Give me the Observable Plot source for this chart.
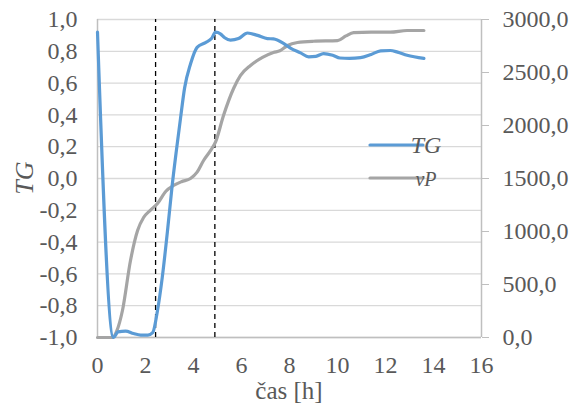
<!DOCTYPE html>
<html><head><meta charset="utf-8">
<script src="https://cdn.jsdelivr.net/npm/d3@7"></script>
<script src="https://cdn.jsdelivr.net/npm/@observablehq/plot@0.6"></script>
<style>body{margin:0;background:#fff}#chart{position:relative;width:569px;height:406px}</style>
</head><body><div id="chart"></div>
<script>
// TG series (time [h], value)
const tgTime   = [0, 0.67, 0.85, 1.17, 1.5, 1.8, 2.1, 2.3, 2.5, 2.7, 2.93, 3.1, 3.29, 3.46, 3.63, 3.875, 4.15, 4.5, 4.75, 4.92, 5.12, 5.3, 5.54, 5.875, 6.25, 6.67, 7.08, 7.33, 7.75, 8.04, 8.46, 8.8, 9.1, 9.42, 9.8, 10.1, 10.5, 10.96, 11.4, 11.8, 12.2, 12.5, 12.9, 13.6];
const tgValues = [0.92, -1.0, -0.965, -0.96, -0.975, -0.985, -0.985, -0.97, -0.83, -0.62, -0.31, -0.06, 0.18, 0.38, 0.57, 0.72, 0.825, 0.855, 0.88, 0.92, 0.91, 0.885, 0.87, 0.88, 0.915, 0.9, 0.88, 0.878, 0.85, 0.82, 0.79, 0.765, 0.768, 0.785, 0.775, 0.758, 0.755, 0.76, 0.78, 0.803, 0.805, 0.795, 0.775, 0.755];
// vP series (time [h], value)
const vpTime   = [0, 0.63, 0.8, 1.04, 1.375, 1.67, 1.92, 2.2, 2.5, 2.85, 3.17, 3.5, 3.875, 4.15, 4.42, 4.7, 4.92, 5.25, 5.67, 5.96, 6.375, 6.875, 7.33, 7.6, 7.92, 8.33, 9.0, 10.0, 10.35, 10.67, 11.4, 12.2, 12.9, 13.6];
const vpValues = [0, 0, 60, 255, 726, 1009, 1132, 1200, 1264, 1380, 1434, 1470, 1500, 1560, 1670, 1760, 1845, 2094, 2349, 2472, 2566, 2642, 2689, 2705, 2755, 2783, 2795, 2800, 2845, 2877, 2880, 2880, 2896, 2896];
// dashed marker times
const markerTimes = [2.42, 4.89];
// ticks
const xTicks = [0, 2, 4, 6, 8, 10, 12, 14, 16];
const tgTicks = [-1, -0.8, -0.6, -0.4, -0.2, 0, 0.2, 0.4, 0.6, 0.8, 1];
const vpTicks = [0, 500, 1000, 1500, 2000, 2500, 3000];
const vpMax = 3000;

const toTG = v => v / vpMax * 2 - 1;
const fromTG = y => (y + 1) / 2 * vpMax;
const fmt1 = d => d3.format(".1f")(Math.abs(d) < 1e-9 ? 0 : d).replace(".", ",").replace("\u2212", "-");

const tgData = tgTime.map((t, i) => ({t, v: tgValues[i]}));
const vpData = vpTime.map((t, i) => ({t, v: vpValues[i]}));

const BLUE = "#5B9BD5", GRAY = "#A5A5A5", TXT = "#595959", GRID = "#D9D9D9", AX = "#BFBFBF";
const FONT = "Liberation Serif";

const plot = Plot.plot({
  width: 569, height: 406,
  marginTop: 19, marginBottom: 69, marginLeft: 97, marginRight: 88,
  style: "font-family: 'Liberation Serif'; background: #fff;",
  x: {domain: [0, 16]},
  y: {domain: [-1, 1]},
  marks: [
    Plot.gridY(tgTicks, {stroke: GRID, strokeOpacity: 1, strokeWidth: 1.3}),
    Plot.axisY(tgTicks, {anchor: "left", tickSize: 0, tickPadding: 20, tickFormat: fmt1, label: null, fontSize: 24, fill: TXT}),
    Plot.axisY(vpTicks.map(toTG), {anchor: "right", tickSize: 7, tickPadding: 14, tickFormat: d => fmt1(fromTG(d)), label: null, fontSize: 24, fill: TXT, stroke: AX, textAnchor: "start"}),
    Plot.axisX(xTicks, {tickSize: 0, tickPadding: 18, label: null, fontSize: 24, fill: TXT}),
    Plot.ruleY([-1], {stroke: AX, strokeWidth: 1.5}),
    Plot.ruleX([0], {stroke: AX, strokeWidth: 1.5}),
    Plot.ruleX([16], {stroke: AX, strokeWidth: 1.5}),
    Plot.ruleX(markerTimes, {y1: -1, y2: 1, stroke: "#000", strokeWidth: 1.3, strokeDasharray: "5,4"}),
    Plot.line(vpData, {x: "t", y: d => toTG(d.v), stroke: GRAY, strokeWidth: 3.2, curve: "monotone-x"}),
    Plot.line(tgData, {x: "t", y: "v", stroke: BLUE, strokeWidth: 3.2, curve: "monotone-x"})
  ]
});
document.getElementById("chart").appendChild(plot);

// Axis titles and legend
const svg = d3.select(plot);
svg.append("text").attr("transform", "translate(33,178) rotate(-90)")
  .attr("text-anchor", "middle").attr("font-style", "italic").attr("font-size", 26)
  .attr("fill", TXT).text("TG");
svg.append("text").attr("x", 289).attr("y", 399)
  .attr("text-anchor", "middle").attr("font-size", 25)
  .attr("fill", TXT).text("čas [h]");
const legend = [{label: "TG", color: BLUE, y: 145}, {label: "vP", color: GRAY, y: 178}];
legend.forEach(l => {
  svg.append("line").attr("x1", 370).attr("x2", 423).attr("y1", l.y).attr("y2", l.y)
    .attr("stroke", l.color).attr("stroke-width", 3.2).attr("stroke-linecap", "round");
  svg.append("text").attr("x", 426).attr("y", l.y + 8).attr("font-style", "italic")
    .attr("font-size", l.label === "TG" ? 24 : 20).attr("fill", TXT).text(l.label);
});
svg.selectAll("text").attr("font-family", FONT).style("font-family", "'Liberation Serif'");
svg.selectAll("g").attr("font-family", FONT).style("font-family", "'Liberation Serif'");
</script>
</body></html>
